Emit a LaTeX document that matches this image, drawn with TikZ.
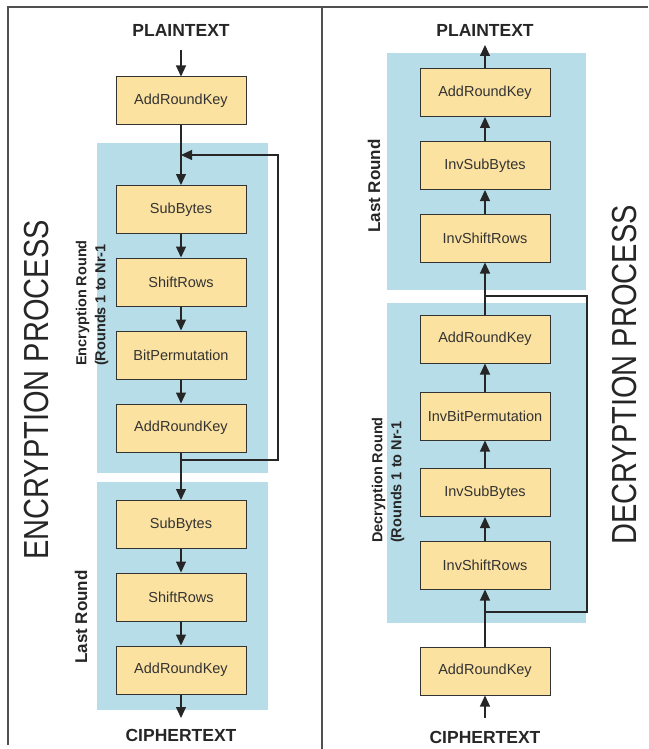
\documentclass[tikz,border=0pt]{standalone}
\usepackage{fontspec}
\usepackage{graphicx}
\setmainfont{Liberation Sans}
\usetikzlibrary{arrows.meta}
\definecolor{boxyellow}{RGB}{252,226,160}
\definecolor{roundblue}{RGB}{183,221,232}
\definecolor{framegray}{RGB}{80,80,80}

\begin{document}
\begin{tikzpicture}[x=1pt,y=-1pt,
	block/.style={draw=black!80,fill=boxyellow,line width=1pt,minimum width=130pt,minimum height=48pt,inner sep=0pt,font=\fontsize{14.5}{16}\selectfont,text=black!80},
	endtext/.style={font=\fontsize{17.5}{20}\selectfont\bfseries,text=black!85},
	flow/.style={draw=black!85,line width=1.1pt,-{Triangle[width=10pt,length=11pt]}},
	loopline/.style={draw=black!85,line width=1.1pt},
	process/.style={rotate=90,font=\fontsize{29}{32}\selectfont,text=black!85},
	roundlabel/.style={rotate=90,align=left,font=\fontsize{14.5}{19}\selectfont\bfseries,text=black!85},
	lastlabel/.style={roundlabel,font=\fontsize{17}{19}\selectfont\bfseries}]
	\useasboundingbox (0,0) rectangle (648,749);
	% rounds
	\fill[roundblue] (97,143) rectangle (268,473);
	\fill[roundblue] (97,482) rectangle (268,710);
	\fill[roundblue] (387,53) rectangle (586,290);
	\fill[roundblue] (387,303) rectangle (586,623);
	% frame
	\draw[framegray,line width=2pt] (648,7) -- (8,7) -- (8,745);
	\draw[framegray,line width=2pt] (322,7) -- (322,749);
	% encryption
	\node[endtext] (encplain) at (181,30) {PLAINTEXT};
	\node[block] (encark0) at (181,101) {AddRoundKey};
	\node[block] (encsb1) at (181,209.5) {SubBytes};
	\node[block] (encsr1) at (181,282) {ShiftRows};
	\node[block] (encbp) at (181,355) {BitPermutation};
	\node[block] (encark1) at (181,428) {AddRoundKey};
	\node[block] (encsb2) at (181,524.5) {SubBytes};
	\node[block] (encsr2) at (181,597) {ShiftRows};
	\node[block] (encark2) at (181,670) {AddRoundKey};
	\node[endtext] (enccipher) at (181,735) {CIPHERTEXT};
	\node[process] (enctitle) at (37,390) {\scalebox{1}[1.2]{ENCRYPTION PROCESS}};
	\node[roundlabel] (encround) at (92,303) {Encryption Round\\(Rounds 1 to Nr-1};
	\node[lastlabel] (enclast) at (81,617) {Last Round};
	\coordinate (encin) at (181,50);
	\coordinate (encout) at (181,718);
	\coordinate (encjoin) at (181,155);
	\coordinate (encsplit) at (181,460);
	\coordinate (encloopa) at (278,460);
	\coordinate (encloopb) at (278,155);
	\draw[flow] (encin) -- (encark0);
	\draw[flow] (encark0) -- (encsb1);
	\draw[flow] (encsb1) -- (encsr1);
	\draw[flow] (encsr1) -- (encbp);
	\draw[flow] (encbp) -- (encark1);
	\draw[flow] (encark1) -- (encsb2);
	\draw[flow] (encsb2) -- (encsr2);
	\draw[flow] (encsr2) -- (encark2);
	\draw[flow] (encark2) -- (encout);
	\draw[flow] (encsplit) -- (encloopa) -- (encloopb) -- (encjoin);
	% decryption
	\node[endtext] (decplain) at (485,30) {PLAINTEXT};
	\node[block] (decark2) at (485,92.5) {AddRoundKey};
	\node[block] (decisb2) at (485,165.5) {InvSubBytes};
	\node[block] (decisr2) at (485,238) {InvShiftRows};
	\node[block] (decark1) at (485,339) {AddRoundKey};
	\node[block] (decibp) at (485,416) {InvBitPermutation};
	\node[block] (decisb1) at (485,492.5) {InvSubBytes};
	\node[block] (decisr1) at (485,565) {InvShiftRows};
	\node[block] (decark0) at (485,671) {AddRoundKey};
	\node[endtext] (deccipher) at (485,737) {CIPHERTEXT};
	\node[process] (dectitle) at (625,375) {\scalebox{1}[1.2]{DECRYPTION PROCESS}};
	\node[roundlabel] (decround) at (388,480) {Decryption Round\\(Rounds 1 to Nr-1};
	\node[lastlabel] (declast) at (374,186) {Last Round};
	\coordinate (decin) at (485,718);
	\coordinate (decout) at (485,45);
	\coordinate (decsplit) at (485,296);
	\coordinate (decjoin) at (485,612);
	\coordinate (decloopa) at (587,296);
	\coordinate (decloopb) at (587,612);
	\draw[flow] (decin) -- (decark0);
	\draw[flow] (decark0) -- (decisr1);
	\draw[flow] (decisr1) -- (decisb1);
	\draw[flow] (decisb1) -- (decibp);
	\draw[flow] (decibp) -- (decark1);
	\draw[flow] (decark1) -- (decisr2);
	\draw[flow] (decisr2) -- (decisb2);
	\draw[flow] (decisb2) -- (decark2);
	\draw[flow] (decark2) -- (decout);
	\draw[loopline] (decsplit) -- (decloopa) -- (decloopb) -- (decjoin);
\end{tikzpicture}
\end{document}
